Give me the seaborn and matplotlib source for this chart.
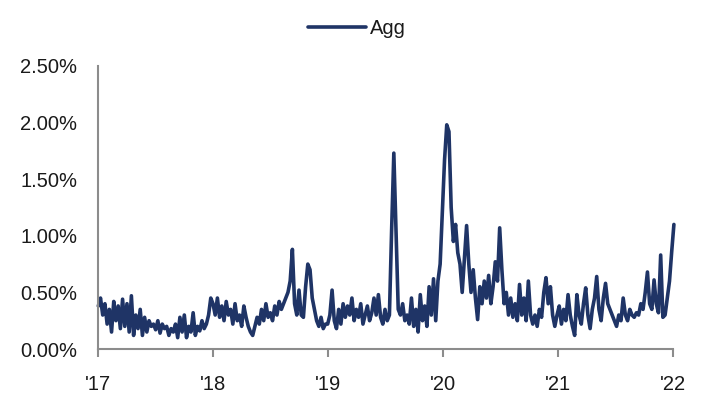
import matplotlib
matplotlib.use("Agg")
import matplotlib.pyplot as plt
import matplotlib.dates as mdates
from matplotlib.ticker import PercentFormatter
import pandas as pd
import seaborn as sns

# weekly values, in %
agg_2017 = [0.38, 0.45, 0.30, 0.40, 0.22, 0.35, 0.15, 0.42, 0.25, 0.38, 0.18, 0.44, 0.20,
            0.40, 0.15, 0.47, 0.12, 0.30, 0.18, 0.35, 0.12, 0.28, 0.15, 0.25, 0.20, 0.22,
            0.17, 0.25, 0.14, 0.22, 0.18, 0.20, 0.12, 0.18, 0.15, 0.22, 0.10, 0.28, 0.15,
            0.30, 0.10, 0.20, 0.15, 0.32, 0.12, 0.20, 0.16, 0.25, 0.18, 0.22, 0.30, 0.45]
agg_2018 = [0.40, 0.30, 0.45, 0.28, 0.38, 0.25, 0.42, 0.30, 0.35, 0.22, 0.40, 0.25, 0.30,
            0.20, 0.38, 0.28, 0.20, 0.15, 0.12, 0.20, 0.28, 0.22, 0.35, 0.25, 0.40, 0.28,
            0.32, 0.25, 0.38, 0.30, 0.42, 0.35, 0.40, 0.45, 0.50, 0.60, 0.88, 0.40, 0.30,
            0.52, 0.30, 0.28, 0.55, 0.75, 0.70, 0.45, 0.35, 0.25, 0.20, 0.28, 0.18, 0.22]
agg_2019 = [0.22, 0.30, 0.52, 0.25, 0.18, 0.35, 0.22, 0.40, 0.28, 0.38, 0.30, 0.45, 0.25,
            0.35, 0.28, 0.40, 0.22, 0.30, 0.38, 0.25, 0.32, 0.45, 0.30, 0.48, 0.28, 0.22,
            0.35, 0.25, 0.30, 1.05, 1.73, 1.05, 0.35, 0.30, 0.40, 0.25, 0.30, 0.22, 0.45,
            0.20, 0.35, 0.15, 0.48, 0.25, 0.38, 0.20, 0.55, 0.30, 0.62, 0.25, 0.60, 0.75]
agg_2020 = [1.20, 1.67, 1.98, 1.92, 1.25, 0.95, 1.10, 0.85, 0.75, 0.50, 0.80, 1.09, 0.75,
            0.50, 0.70, 0.45, 0.26, 0.55, 0.40, 0.60, 0.45, 0.65, 0.40, 0.55, 0.77, 0.60,
            1.07, 0.70, 0.40, 0.50, 0.30, 0.45, 0.28, 0.40, 0.25, 0.57, 0.30, 0.45, 0.25,
            0.60, 0.30, 0.22, 0.30, 0.20, 0.35, 0.28, 0.50, 0.63, 0.40, 0.55, 0.30, 0.20]
agg_2021 = [0.30, 0.38, 0.22, 0.35, 0.25, 0.48, 0.30, 0.20, 0.12, 0.48, 0.30, 0.22, 0.40,
            0.54, 0.30, 0.18, 0.35, 0.45, 0.64, 0.35, 0.25, 0.45, 0.58, 0.40, 0.35, 0.30,
            0.25, 0.20, 0.30, 0.25, 0.45, 0.30, 0.25, 0.35, 0.30, 0.28, 0.32, 0.30, 0.40,
            0.35, 0.50, 0.68, 0.40, 0.35, 0.61, 0.40, 0.32, 0.83, 0.28, 0.30, 0.45, 0.60]
agg_2022 = [0.86, 1.10]

values = agg_2017 + agg_2018 + agg_2019 + agg_2020 + agg_2021 + agg_2022
dates = pd.date_range("2017-01-02", periods=len(values), freq="7D")
df = pd.DataFrame({"date": dates, "Agg": [v / 100 for v in values]})

sns.set_style("white")
plt.rcParams["font.family"] = ["Liberation Sans", "DejaVu Sans"]
plt.rcParams["text.color"] = "#1a1a1a"

fig = plt.figure(figsize=(7.05, 4.07), dpi=100)
ax = fig.add_axes([0.139, 0.1425, 0.816, 0.6955])
sns.lineplot(data=df, x="date", y="Agg", color="#1f3466", linewidth=2.6,
             label="Agg", ax=ax, clip_on=False)

ax.set_xlim(pd.Timestamp("2017-01-01"), pd.Timestamp("2022-01-01"))
ax.set_ylim(0, 0.025)
ax.set_yticks([0, 0.005, 0.01, 0.015, 0.02, 0.025])
ax.yaxis.set_major_formatter(PercentFormatter(1.0, decimals=2))
ax.xaxis.set_major_locator(mdates.YearLocator())
ax.xaxis.set_major_formatter(mdates.DateFormatter("'%y"))
ax.set_xlabel("")
ax.set_ylabel("")

for side in ["top", "right"]:
    ax.spines[side].set_visible(False)
for side in ["left", "bottom"]:
    ax.spines[side].set_color("#8c8c8c")
    ax.spines[side].set_linewidth(1.5)
ax.tick_params(axis="x", length=6, width=1.5, color="#8c8c8c", labelsize=14.5,
               labelcolor="#1a1a1a", pad=13, bottom=True)
ax.tick_params(axis="y", length=0, labelsize=14.5, labelcolor="#1a1a1a", pad=15)

ax.legend(loc="center", bbox_to_anchor=(0.506, 0.93), bbox_transform=fig.transFigure,
          frameon=False, fontsize=14.5, handlelength=2.9, handletextpad=0.2)

fig.savefig("out.png", dpi=100)
